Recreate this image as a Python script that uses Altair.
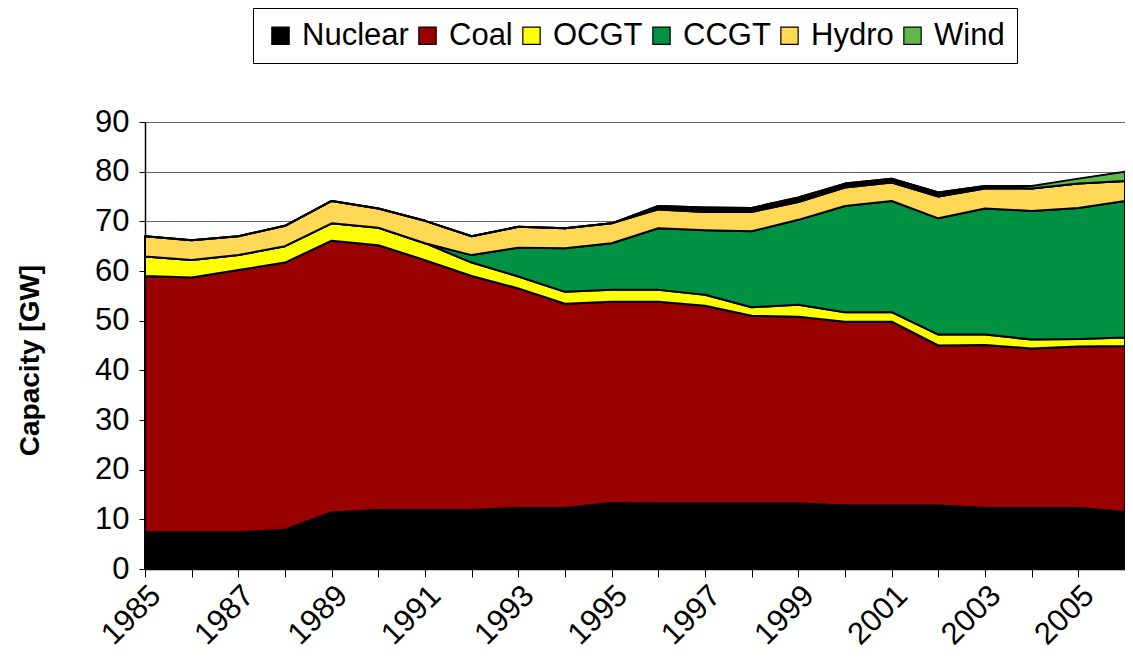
import altair as alt
import pandas as pd

years = list(range(1985, 2007))
nuclear = [7.4, 7.4, 7.4, 7.9, 11.4, 11.9, 11.9, 11.9, 12.3, 12.3, 13.3, 13.2, 13.2, 13.2, 13.2, 12.8, 12.8, 12.8, 12.3, 12.3, 12.3, 11.5]
coal = [51.6, 51.3, 52.8, 53.8, 54.7, 53.3, 50.3, 47.1, 44.2, 41.1, 40.5, 40.6, 39.8, 37.8, 37.6, 37.0, 37.0, 32.2, 32.8, 32.1, 32.5, 33.4]
ocgt = [3.9, 3.5, 3.0, 3.3, 3.5, 3.5, 3.4, 2.7, 2.4, 2.4, 2.4, 2.4, 2.2, 1.7, 2.4, 1.9, 1.9, 2.2, 2.1, 1.8, 1.5, 1.7]
ccgt = [0, 0, 0, 0, 0, 0, 0, 1.5, 5.8, 8.8, 9.4, 12.4, 13.0, 15.3, 17.1, 21.4, 22.4, 23.4, 25.4, 25.9, 26.4, 27.5]
hydro = [4.1, 4.0, 3.8, 4.1, 4.5, 3.9, 4.5, 3.8, 4.2, 4.0, 4.0, 3.8, 3.7, 3.9, 3.6, 3.7, 3.7, 4.4, 4.0, 4.5, 4.9, 4.0]
other = [0, 0, 0, 0, 0, 0, 0, 0, 0, 0, 0, 0.7, 0.9, 0.8, 0.9, 0.8, 0.8, 0.8, 0.5, 0, 0, 0]
wind = [0, 0, 0, 0, 0, 0, 0, 0, 0, 0, 0, 0, 0, 0, 0, 0, 0, 0, 0, 0.5, 1.0, 1.9]

series_names = ["Nuclear", "Coal", "OCGT", "CCGT", "Hydro", "Other", "Wind"]
series_colors = ["#000000", "#990000", "#FFFF00", "#009142", "#FFD955", "#000000", "#5DB94A"]
legend_names = ["Nuclear", "Coal", "OCGT", "CCGT", "Hydro", "Wind"]
y_ticks = list(range(0, 91, 10))

series_values = [nuclear, coal, ocgt, ccgt, hydro, other, wind]
rows = []
for k, (name, vals) in enumerate(zip(series_names, series_values)):
    for yr, v in zip(years, vals):
        rows.append({"Year": yr, "Source": name, "Capacity": v, "k": k})
df = pd.DataFrame(rows)

FONT = "Liberation Sans"

chart = alt.Chart(df).mark_area(
    stroke="black", strokeWidth=2, strokeJoin="round"
).encode(
    x=alt.X(
        "Year:Q",
        scale=alt.Scale(domain=[1985, 2006], nice=False, zero=False),
        axis=alt.Axis(
            values=years,
            format="d",
            labelExpr="(datum.value - 1985) % 2 == 0 ? datum.label : ''",
            labelAngle=315,
            labelAlign="right",
            labelBaseline="top",
            labelPadding=3,
            labelOverlap=False,
            labelFlush=False,
            labelFont=FONT,
            labelFontSize=31,
            labelColor="black",
            grid=False,
            tickSize=8,
            tickColor="black",
            domainColor="black",
            domainWidth=1.5,
            title=None,
        ),
    ),
    y=alt.Y(
        "Capacity:Q",
        stack="zero",
        scale=alt.Scale(domain=[0, 90], nice=False),
        axis=alt.Axis(
            values=y_ticks,
            labelFont=FONT,
            labelFontSize=31,
            labelColor="black",
            labelPadding=10,
            tickSize=6,
            tickColor="black",
            domainColor="black",
            domainWidth=1.5,
            grid=True,
            gridColor="#666666",
            gridWidth=1,
            title="Capacity [GW]",
            titleFont=FONT,
            titleFontSize=28,
            titleFontWeight="bold",
            titleColor="black",
            titleAngle=270,
            titleX=-115,
            titleY=238,
            titleAlign="center",
            titleBaseline="middle",
        ),
    ),
    color=alt.Color(
        "Source:N",
        scale=alt.Scale(domain=series_names, range=series_colors),
        legend=alt.Legend(
            values=legend_names,
            title=None,
            orient="none",
            legendX=108,
            legendY=-114,
            direction="horizontal",
            columns=6,
            strokeColor="black",
            fillColor="white",
            padding=12,
            labelFont=FONT,
            labelFontSize=31,
            labelColor="black",
            labelOffset=6,
            columnPadding=3,
            symbolType="square",
            symbolSize=300,
            symbolStrokeColor="black",
            symbolStrokeWidth=1.2,
            symbolOpacity=1,
        ),
    ),
    order=alt.Order("k:Q", sort="ascending"),
).properties(
    width=980,
    height=447,
    autosize=alt.AutoSizeParams(type="none"),
    padding={"left": 137, "top": 114, "right": 0, "bottom": 85},
).configure_view(
    stroke="#8a8a8a", strokeWidth=2
).configure(
    background="white"
)

chart.save("out.html", embed_options={"renderer": "svg", "actions": False})
